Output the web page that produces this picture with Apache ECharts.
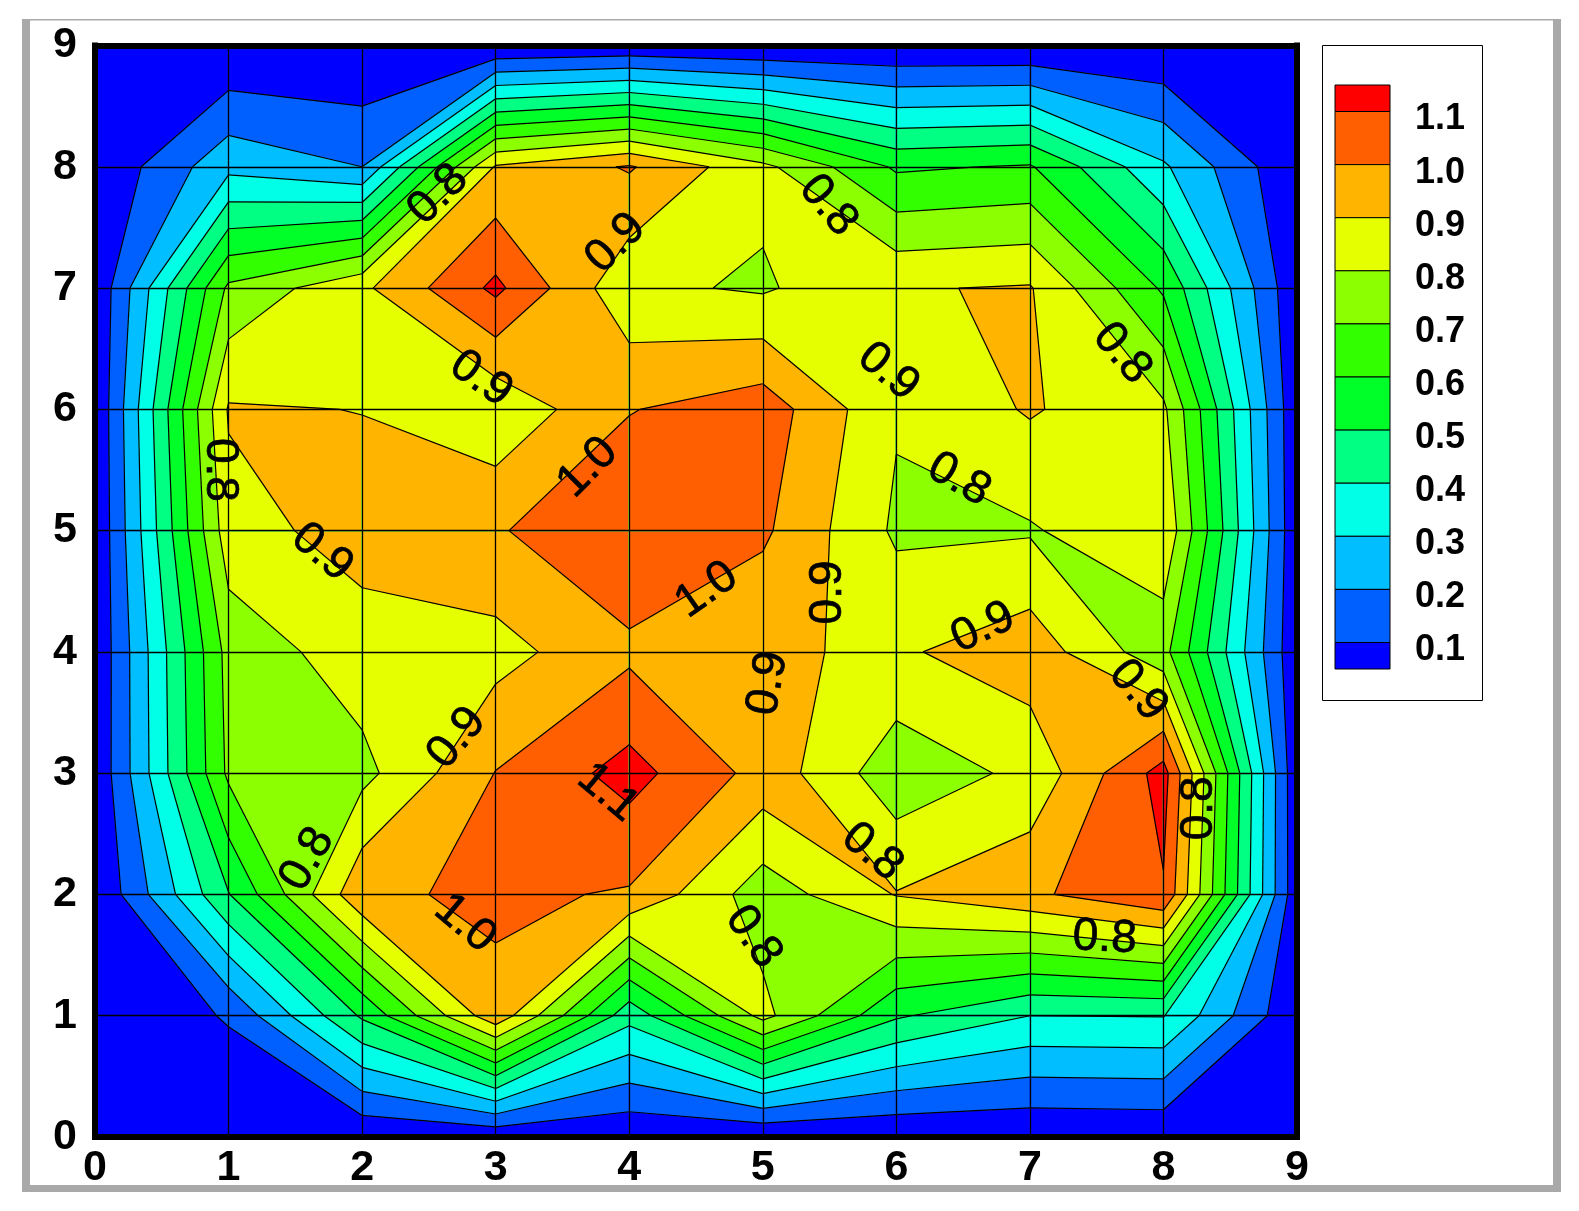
<!DOCTYPE html>
<html>
<head>
<meta charset="utf-8">
<title>Contour</title>
<script src="https://cdn.jsdelivr.net/npm/echarts@6/dist/echarts.min.js"></script>
<style>
  html, body { margin: 0; padding: 0; background: #fff; }
  #chart { width: 1579px; height: 1211px; }
</style>
</head>
<body>
<div id="chart"></div>
<script>
// grid values, one list per y row (x = 0..9)
const row0 = [0, 0, 0.01, 0.02, 0.012, 0.005, 0.007, 0.005, 0.012, 0];
const row1 = [0, 0.11, 0.515, 0.97, 0.435, 0.83, 0.513, 0.4, 0.404, 0.013];
const row2 = [0.004, 0.495, 0.98, 1.02, 0.99, 0.745, 0.905, 0.98, 1.09, 0.026];
const row3 = [0.015, 0.72, 0.77, 1.003, 1.137, 0.965, 0.735, 0.825, 1.14, 0.02];
const row4 = [0.012, 0.736, 0.854, 0.863, 0.979, 0.913, 0.885, 0.96, 0.734, 0.02];
const row5 = [0.007, 0.86, 0.941, 0.99, 1.09, 1.018, 0.783, 0.79, 0.886, 0.02];
const row6 = [0.008, 0.91, 0.898, 0.82, 0.995, 1.057, 0.81, 0.91, 0.82, 0.02];
const row7 = [0.015, 0.72, 0.88, 1.123, 0.822, 0.787, 0.893, 0.908, 0.585, 0.017];
const row8 = [0.01, 0.27, 0.2, 0.91, 1.01, 0.826, 0.585, 0.61, 0.315, 0.01];
const row9 = [0, 0, 0, 0, 0.014, 0, 0, 0, 0, 0];
const rows = [row0, row1, row2, row3, row4, row5, row6, row7, row8, row9];

const levels = [0.1, 0.2, 0.3, 0.4, 0.5, 0.6, 0.7, 0.8, 0.9, 1.0, 1.1];
const levelLabels = ["0.1", "0.2", "0.3", "0.4", "0.5", "0.6", "0.7", "0.8", "0.9", "1.0", "1.1"];
const bandColors = ["#0000FF", "#005FFF", "#00BEFF", "#00FFE6", "#00FF82", "#00FF28", "#32FF00", "#8CFF00", "#E6FF00", "#FFB400", "#FF5F00", "#FF0000"];

// contour labels as printed on the plot
const labelTexts = ["0.8", "0.9", "0.8", "0.9", "0.9", "0.8", "0.8", "1.0", "0.8", "0.9", "1.0", "0.9", "0.9", "0.9", "0.9", "0.9", "1.1", "0.8", "0.8", "0.8", "1.0", "0.8", "0.8"];
const labelX = [2.57, 3.90, 5.49, 2.89, 5.94, 7.69, 0.93, 3.69, 6.47, 1.70, 4.58, 5.49, 6.65, 5.04, 7.81, 2.71, 3.84, 8.27, 5.82, 1.59, 2.77, 4.93, 7.56];
const labelY = [7.77, 7.37, 7.68, 6.25, 6.31, 6.46, 5.50, 5.52, 5.42, 4.82, 4.51, 4.49, 4.20, 3.74, 3.68, 3.29, 2.84, 2.71, 2.35, 2.29, 1.76, 1.65, 1.64];
const labelAngle = [45, 45, -50, -35, -40, -50, -90, 45, -30, -40, 35, 90, 25, 80, -50, 50, -40, 90, -40, 60, -40, -55, -3];

const FONT = '"Liberation Sans", Arial, sans-serif';

const cells = [];
for(let j = 0; j < rows.length - 1; j++){
  for(let i = 0; i < row0.length - 1; i++){
    cells.push([i, j]);
  }
}

// order: bottom-left, bottom-right, top-right, top-left
function cellCorners(i, j){
  return [
    { x: i, y: j, v: rows[j][i] },
    { x: i + 1, y: j, v: rows[j][i + 1] },
    { x: i + 1, y: j + 1, v: rows[j + 1][i + 1] },
    { x: i, y: j + 1, v: rows[j + 1][i] }
  ];
}

function crossing(a, b, level){
  const t = (level - a.v) / (b.v - a.v);
  return { x: a.x + (b.x - a.x) * t, y: a.y + (b.y - a.y) * t, v: level };
}

function edgeHits(c, level){
  return c.map((p, idx) => {
    const next = c[(idx + 1) % 4];
    return (p.v >= level) !== (next.v >= level) ? crossing(p, next, level) : null;
  });
}

// the part of the cell at or above a level; cells with two opposite highs
// always cut off the bottom-left and top-right corners, like the original
function aboveLevel(c, level, hits){
  if(hits.every(Boolean) && c[0].v >= level){
    return [[c[0], hits[0], hits[3]], [c[2], hits[2], hits[1]]];
  }
  const out = [];
  c.forEach((p, idx) => {
    if(p.v >= level) out.push(p);
    if(hits[idx]) out.push(hits[idx]);
  });
  return out.length ? [out] : [];
}

function renderFill(params, api){
  const corners = cellCorners(api.value(0), api.value(1));
  const paint = (poly, color) => ({
    type: "polygon",
    shape: { points: poly.map((p) => api.coord([p.x, p.y])) },
    style: { fill: color, stroke: color, lineWidth: 0.8 }
  });
  const children = [paint(corners, bandColors[0])];
  levels.forEach((level, idx) => {
    aboveLevel(corners, level, edgeHits(corners, level)).forEach((poly) => {
      children.push(paint(poly, bandColors[idx + 1]));
    });
  });
  return { type: "group", children };
}

function renderLines(params, api){
  const c = cellCorners(api.value(0), api.value(1));
  const children = [];
  const addSegment = (a, b) => {
    const p = api.coord([a.x, a.y]);
    const q = api.coord([b.x, b.y]);
    children.push({
      type: "line",
      shape: { x1: p[0], y1: p[1], x2: q[0], y2: q[1] },
      style: { stroke: "#000", lineWidth: 1.2 }
    });
  };
  levels.forEach((level) => {
    const hits = edgeHits(c, level);
    const found = hits.filter(Boolean);
    if(found.length === 2){
      addSegment(found[0], found[1]);
    } else if(found.length === 4){
      addSegment(hits[3], hits[0]);
      addSegment(hits[1], hits[2]);
    }
  });
  return { type: "group", children };
}

function renderLabel(params, api){
  const idx = params.dataIndex;
  const p = api.coord([api.value(0), api.value(1)]);
  return {
    type: "text",
    x: p[0],
    y: p[1],
    rotation: labelAngle[idx] * Math.PI / 180,
    style: {
      text: labelTexts[idx],
      font: `46px ${FONT}`,
      fill: "#000",
      stroke: "#000",
      lineWidth: 0.7,
      align: "center",
      verticalAlign: "middle"
    }
  };
}

function legendGraphics(){
  const left = 1335, width = 55, top = 85, unit = 53.1, half = 26.5;
  const out = [{
    type: "rect",
    shape: { x: 1322.5, y: 45.5, width: 160, height: 655 },
    style: { fill: "#fff", stroke: "#000", lineWidth: 1 }
  }];
  let y = top;
  for(let band = bandColors.length - 1; band >= 0; band--){
    const h = (band === 0 || band === bandColors.length - 1) ? half : unit;
    out.push({
      type: "rect",
      shape: { x: left, y, width, height: h },
      style: { fill: bandColors[band], stroke: "#000", lineWidth: 1 }
    });
    y += h;
    if(band > 0){
      out.push({
        type: "text",
        x: 1415,
        y: y + 8,
        style: {
          text: levelLabels[band - 1],
          font: `bold 36px ${FONT}`,
          fill: "#000",
          align: "left",
          verticalAlign: "middle"
        }
      });
    }
  }
  return out;
}

function frameGraphics(){
  const gray = "#A9A9A9";
  return [
    { x: 22, y: 19, width: 8, height: 1173 },
    { x: 22, y: 19, width: 1539, height: 1.5 },
    { x: 1553, y: 19, width: 8, height: 1173 },
    { x: 22, y: 1185, width: 1539, height: 7 }
  ].map((shape) => ({ type: "rect", shape, style: { fill: gray } }));
}

const axisBase = {
  type: "value",
  min: 0,
  max: 9,
  interval: 1,
  z: 5,
  silent: true,
  axisLine: { show: true, onZero: false, lineStyle: { color: "#000", width: 6, cap: "square" } },
  axisTick: { show: false },
  splitLine: { show: true, lineStyle: { color: "#000", width: 1.3 } },
  axisLabel: {
    show: true,
    color: "#000",
    fontFamily: FONT,
    fontWeight: "bold",
    fontSize: 43,
    showMinLabel: true,
    showMaxLabel: true,
    hideOverlap: false
  }
};

const chart = echarts.init(document.getElementById("chart"), null, { renderer: "canvas" });

chart.setOption({
  animation: false,
  backgroundColor: "#fff",
  tooltip: { show: false },
  grid: { left: 95, right: 1579 - 1297, top: 45.5, bottom: 1211 - 1137, containLabel: false },
  xAxis: [
    { ...axisBase, position: "bottom", axisLabel: { ...axisBase.axisLabel, margin: 10 } },
    { ...axisBase, position: "top", axisLabel: { show: false }, splitLine: { show: false } }
  ],
  yAxis: [
    { ...axisBase, position: "left", axisLabel: { ...axisBase.axisLabel, margin: 18, padding: [6, 0, 0, 0] } },
    { ...axisBase, position: "right", axisLabel: { show: false }, splitLine: { show: false } }
  ],
  graphic: [...frameGraphics(), ...legendGraphics()],
  series: [
    { type: "custom", z: 2, clip: false, silent: true, encode: { x: 0, y: 1 }, data: cells, renderItem: renderFill },
    { type: "custom", z: 3, clip: false, silent: true, encode: { x: 0, y: 1 }, data: cells, renderItem: renderLines },
    {
      type: "custom",
      z: 8,
      clip: false,
      silent: true,
      encode: { x: 0, y: 1 },
      data: labelX.map((x, idx) => [x, labelY[idx]]),
      renderItem: renderLabel
    }
  ]
});
</script>
</body>
</html>
